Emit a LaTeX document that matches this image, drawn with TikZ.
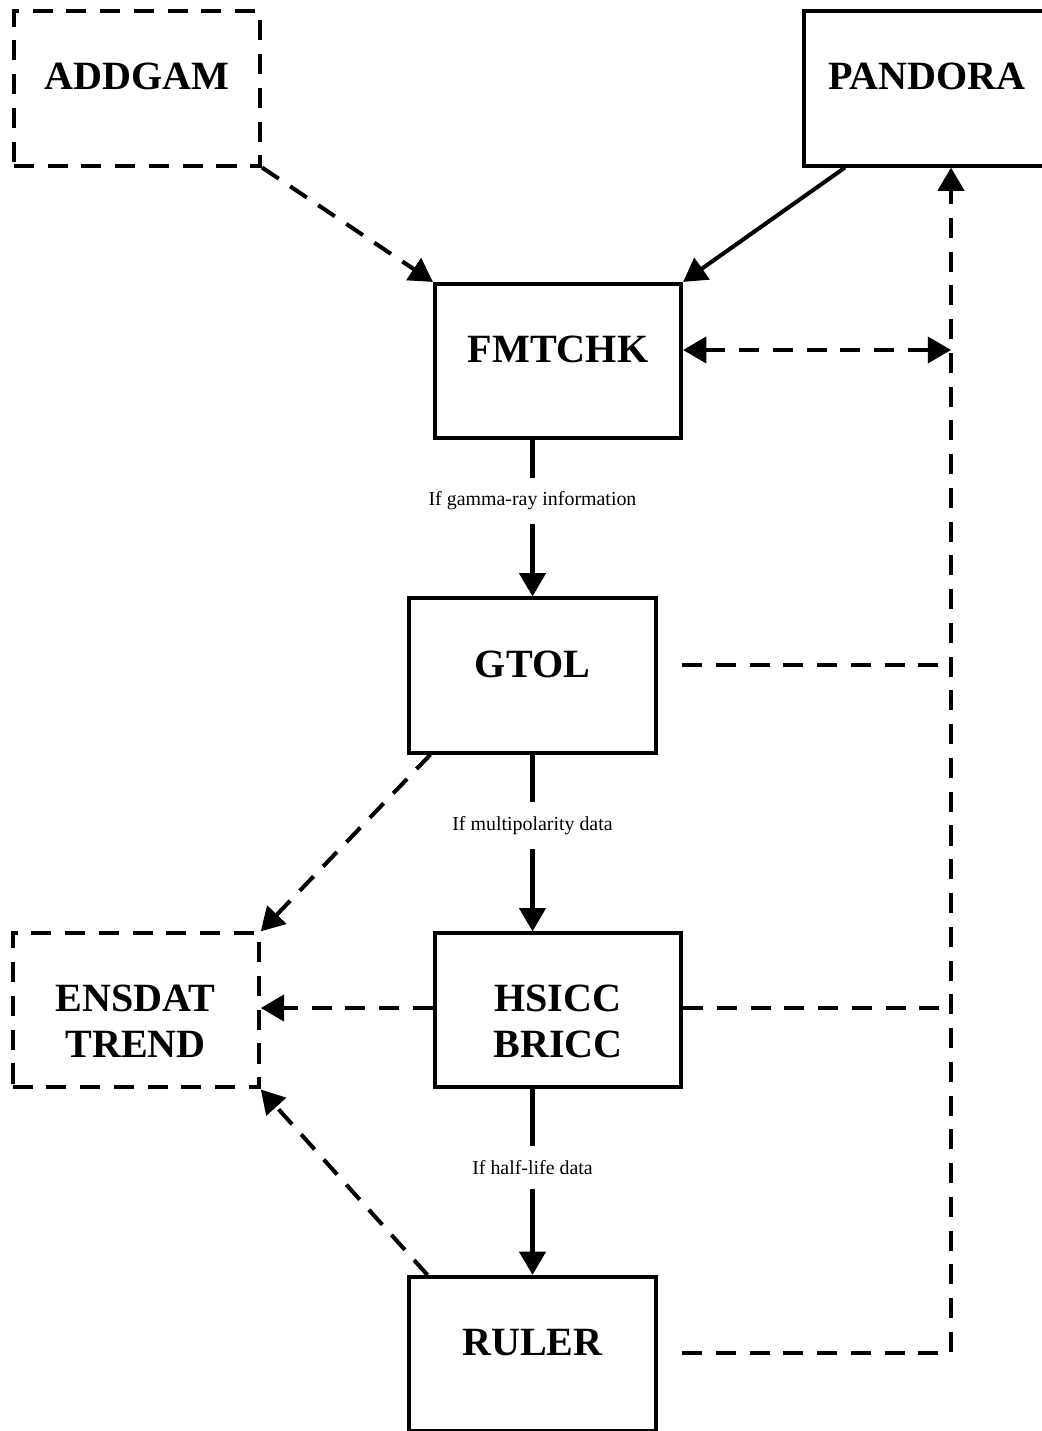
\documentclass[tikz,border=0pt]{standalone}
\usepackage{fontspec}
\setmainfont{Liberation Serif}
\usetikzlibrary{arrows.meta, positioning}

\newcommand{\boxfont}{\fontsize{11.4}{13.1}\selectfont\bfseries}
\newcommand{\condfont}{\fontsize{5.66}{6.8}\selectfont}

\begin{document}
\begin{tikzpicture}[
    x=0.01cm, y=-0.01cm,
    box/.style={rectangle, draw, line width=1.15pt, minimum width=2.46cm, minimum height=1.54cm, align=center, font=\boxfont, text height=0.28cm, text depth=0.25cm},
    twoline/.style={text height=0.95cm, text depth=0cm, inner ysep=0pt},
    optbox/.style={box, dash pattern=on 5.7pt off 3.9pt},
    arrow/.style={-{Triangle[length=6.6pt, width=7.4pt]}, line width=1.15pt},
    twoway/.style={{Triangle[length=6.6pt, width=7.4pt]}-{Triangle[length=6.6pt, width=7.4pt]}, line width=1.15pt},
    link/.style={line width=1.15pt, dash pattern=on 5.7pt off 3.9pt},
    cond/.style={font=\condfont, fill=white, inner xsep=1pt, inner ysep=4pt}
]

% Page
\fill[white] (0,0) rectangle (1041,1431);
\useasboundingbox (0,0) rectangle (1041,1431);

% Input programs
\node[optbox] (addgam) at (137,88.5) {ADDGAM};
\node[box] (pandora) at (927,88.5) {PANDORA};

% Main chain
\node[box] (fmtchk) at (558,361) {FMTCHK};
\node[box] (gtol) at (532.5,675.5) {GTOL};
\node[box, twoline, below=4.91cm of fmtchk] (hsicc) {HSICC\\BRICC};
\node[box] (ruler) at (532.5,1354) {RULER};

% Output programs
\node[optbox, twoline, left=1.72cm of hsicc] (ensdat) {ENSDAT\\TREND};

% Return line to PANDORA
\coordinate (busF) at (951,350);
\coordinate (busG) at (951,665);
\coordinate (busH) at (951,1008);
\coordinate (busR) at (951,1353);
\coordinate (gtolout) at (682,665);
\coordinate (rulerout) at (682,1353);

% Arrows
\draw[arrow, link] (addgam.south east) -- (fmtchk.north west);
\draw[arrow] ([xshift=-0.82cm]pandora.south) -- (fmtchk.north east);
\draw[arrow] (fmtchk.south -| gtol.north) -- node[cond, pos=0.39] {If gamma-ray information} (gtol.north);
\draw[arrow] (gtol.south) -- node[cond, pos=0.4] {If multipolarity data} (hsicc.north -| gtol.south);
\draw[arrow] (hsicc.south -| ruler.north) -- node[cond, pos=0.42] {If half-life data} (ruler.north);

% To ENSDAT/TREND
\draw[arrow, link] ([xshift=-1.02cm]gtol.south) -- (ensdat.north east);
\draw[arrow, link] (hsicc.west |- busH) -- (ensdat.east |- busH);
\draw[arrow, link] ([xshift=-1.05cm]ruler.north) -- (ensdat.south east);

% Back to PANDORA
\draw[twoway, link] (fmtchk.east |- busF) -- (busF);
\draw[link] (gtolout) -- (busG);
\draw[link] (hsicc.east |- busH) -- (busH);
\draw[arrow, link] (rulerout) -- (busR) -- (pandora.south -| busR);

\end{tikzpicture}
\end{document}
